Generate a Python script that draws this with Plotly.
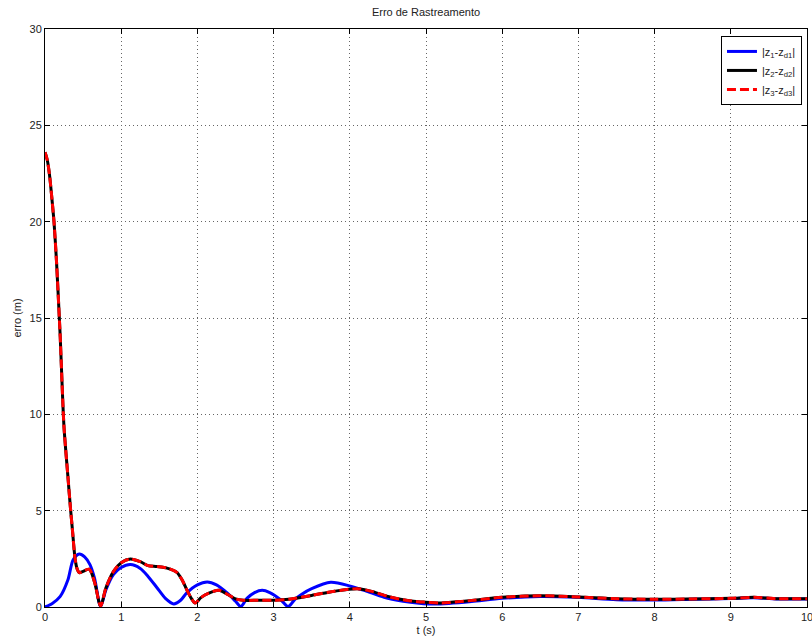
import plotly.graph_objects as go

# Red / black curves (|z2-zd2| and |z3-zd3| are essentially identical)
t_23 = [0, 0.03, 0.06, 0.1, 0.118, 0.15, 0.188, 0.2, 0.232, 0.25, 0.3, 0.337, 0.36, 0.394, 0.42, 0.45,
        0.5, 0.58, 0.65, 0.73, 0.8, 0.9, 1.0, 1.12, 1.25, 1.35, 1.47, 1.6, 1.73, 1.8, 1.86, 1.92, 1.97,
        2.05, 2.15, 2.28, 2.4, 2.5, 2.6, 2.8, 3.0, 3.2, 3.5, 3.8, 4.1, 4.3, 4.5, 4.7, 4.9, 5.0, 5.2,
        5.5, 6.0, 6.5, 7.0, 7.5, 8.0, 8.5, 9.0, 9.3, 9.6, 10.0]
e_2 = [23.6, 23.2, 22.4, 20.8, 20.0, 18.0, 15.0, 14.0, 10.8, 9.3, 6.8, 5.0, 4.0, 2.53, 2.0, 1.78,
       1.85, 1.96, 1.3, 0.05, 1.0, 1.85, 2.3, 2.49, 2.35, 2.15, 2.1, 2.02, 1.8, 1.4, 0.9, 0.45, 0.21,
       0.5, 0.72, 0.87, 0.65, 0.42, 0.35, 0.35, 0.35, 0.4, 0.6, 0.82, 0.95, 0.8, 0.55, 0.38, 0.27, 0.25, 0.21,
       0.3, 0.5, 0.58, 0.52, 0.43, 0.4, 0.42, 0.45, 0.5, 0.43, 0.43]
e_3 = list(e_2)

# Blue curve |z1-zd1|
t_1 = [0, 0.1, 0.2, 0.3, 0.37, 0.45, 0.52, 0.59, 0.65, 0.73, 0.8, 0.9, 1.0, 1.12, 1.25, 1.35, 1.47,
       1.58, 1.69, 1.78, 1.86, 2.0, 2.13, 2.25, 2.39, 2.5, 2.57, 2.65, 2.75, 2.85, 2.95, 3.1, 3.19,
       3.28, 3.36, 3.5, 3.75, 4.01, 4.2, 4.45, 4.7, 4.91, 5.1, 5.3, 5.6, 6.0, 6.5, 7.0, 7.5, 8.0,
       8.5, 9.0, 9.3, 9.6, 10.0]
e_1 = [0, 0.2, 0.55, 1.4, 2.45, 2.75, 2.6, 2.2, 1.5, 0.02, 0.9, 1.7, 2.05, 2.2, 2.0, 1.6, 1.0,
       0.45, 0.16, 0.35, 0.73, 1.15, 1.3, 1.15, 0.73, 0.3, 0.02, 0.45, 0.75, 0.87, 0.75, 0.35, 0.02,
       0.4, 0.64, 0.95, 1.28, 1.08, 0.85, 0.5, 0.3, 0.2, 0.15, 0.18, 0.28, 0.45, 0.55, 0.5, 0.38, 0.36,
       0.4, 0.44, 0.48, 0.42, 0.42]

x_ticks = [0, 1, 2, 3, 4, 5, 6, 7, 8, 9, 10]
y_ticks = [0, 5, 10, 15, 20, 25, 30]

FAM = "Liberation Sans, Arial, sans-serif"
font = dict(family=FAM, size=11, color="#222")

fig = go.Figure()
fig.add_trace(go.Scatter(x=t_1, y=e_1, mode="lines", name="|z<sub>1</sub>-z<sub>d1</sub>|",
                         legendgroup="a",
                         line=dict(color="#0000ff", width=3, shape="spline", smoothing=0.8)))
fig.add_trace(go.Scatter(x=t_23, y=e_2, mode="lines", name="|z<sub>2</sub>-z<sub>d2</sub>|",
                         legendgroup="b",
                         line=dict(color="#000000", width=3, shape="spline", smoothing=0.8)))
fig.add_trace(go.Scatter(x=t_23, y=e_3, mode="lines", name="|z<sub>3</sub>-z<sub>d3</sub>|",
                         legendgroup="c",
                         line=dict(color="#ff0000", width=3, dash="9px,4px", shape="spline", smoothing=0.8)))

axis_common = dict(showline=True, linecolor="black", linewidth=1, mirror="allticks",
                   ticks="inside", ticklen=5, tickcolor="black",
                   showgrid=True, gridcolor="#666", griddash="1px,3px", gridwidth=1,
                   zeroline=False, tickfont=font, automargin=False,
                   ticklabeloverflow="allow")

fig.update_layout(
    width=812, height=640,
    margin=dict(l=45, r=5, t=29, b=33),
    paper_bgcolor="white", plot_bgcolor="white",
    font=font,
    title=dict(text="Erro de Rastreamento", x=0.5, xanchor="center",
               xref="paper", y=1 - 12 / 640, yanchor="middle",
               font=dict(family=FAM, size=11, color="#222")),
    xaxis=dict(range=[0, 10], tickvals=x_ticks,
               title=dict(text="t (s)", standoff=4, font=font), **axis_common),
    yaxis=dict(range=[0, 30], tickvals=y_ticks,
               title=dict(text="erro (m)", standoff=5, font=font), **axis_common),
    showlegend=True,
    legend=dict(x=0.9934, y=0.988, xanchor="right", yanchor="top",
                bgcolor="white", bordercolor="black", borderwidth=1,
                font=dict(family=FAM, size=11, color="#222"),
                tracegroupgap=0, itemwidth=30),
)

# Remove the page's default body margin so the figure sits at the window origin.
fig.write_html("out.html",
               config={"displayModeBar": False},
               post_script="document.body.style.margin='0';"
                           "document.documentElement.style.overflow='hidden';"
                           "document.body.style.overflow='hidden';")
